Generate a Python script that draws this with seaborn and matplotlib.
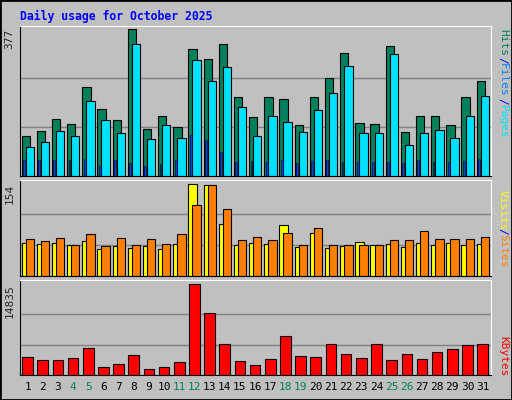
import matplotlib
matplotlib.use('Agg')
import matplotlib.pyplot as plt
import seaborn as sns
import numpy as np

days = list(range(1, 32))
weekend = [4, 5, 11, 12, 18, 19, 25, 26]

hits = [103, 115, 146, 133, 228, 172, 144, 377, 121, 154, 126, 326, 300, 339, 203, 151, 203, 197, 131, 203, 251, 315, 136, 133, 333, 113, 154, 154, 131, 203, 244]
files = [74, 87, 115, 103, 192, 144, 110, 339, 95, 131, 97, 297, 244, 280, 177, 103, 154, 138, 113, 169, 213, 282, 110, 110, 313, 79, 110, 118, 97, 154, 205]
pages = [41, 41, 41, 41, 44, 26, 41, 33, 26, 31, 41, 105, 92, 62, 36, 38, 36, 41, 33, 38, 41, 36, 36, 36, 36, 33, 41, 36, 36, 38, 44]
visits = [55, 54, 55, 52, 59, 45, 50, 47, 50, 45, 54, 154, 152, 87, 52, 55, 54, 85, 49, 72, 47, 50, 57, 52, 54, 49, 55, 52, 55, 52, 54]
sites = [62, 59, 64, 52, 70, 50, 64, 52, 62, 54, 70, 119, 152, 112, 60, 65, 60, 72, 52, 80, 52, 52, 52, 52, 60, 60, 75, 62, 62, 62, 65]
kbytes = [2934, 2445, 2445, 2771, 4401, 1304, 1793, 3260, 978, 1304, 2119, 14835, 10110, 5053, 2282, 1630, 2608, 6357, 3097, 2934, 5053, 3423, 2771, 5053, 2445, 3423, 2608, 3749, 4238, 4890, 5053]

sns.set_style('white')
plt.rcParams['font.family'] = ['DejaVu Sans Mono', 'DejaVu Sans']

W, H = 512, 400
fig = plt.figure(figsize=(W / 100, H / 100), dpi=100, facecolor='#c0c0c0')
fig.patches.append(plt.Rectangle((0, 0), 1, 1, transform=fig.transFigure,
                                 fill=False, edgecolor='black', lw=2))
fig.text(20 / W, 1 - 16 / H, 'Daily usage for October 2025', color='#0000ff',
         fontsize=8.3, fontweight='bold', va='center')


def panel(top, bottom):
    ax = fig.add_axes([20 / W, 1 - bottom / H, (491 - 20) / W, (bottom - top) / H])
    ax.set_facecolor('#c0c0c0')
    ax.set_xlim(0.3, 31.35)
    ax.set_xticks([])
    ax.set_yticks([])
    for s in ax.spines.values():
        s.set_color('black')
    ax.spines['top'].set_color('white')
    ax.spines['right'].set_color('white')
    return ax


def side_labels(ax, items):
    for t, c, yy in items:
        ax.text(1.025, yy, t, transform=ax.transAxes, rotation=270, color=c,
                fontsize=8, ha='center', va='center')


def max_label(ax, v):
    ax.text(-0.022, v, str(v), transform=ax.get_yaxis_transform(), rotation=90,
            ha='center', va='top', fontsize=8)


x = np.array(days, dtype=float)
kw = dict(edgecolor='black', linewidth=0.8, align='edge')

# top panel
ax1 = panel(26, 176)
mx = max(hits)
ax1.set_ylim(0, mx * 150 / 147)
for g in (mx / 3, mx * 2 / 3):
    ax1.axhline(g, color='#808080', lw=1, zorder=0)
ax1.bar(x - 0.6, hits, width=0.55, color='#00805c', **kw)
ax1.bar(x - 0.33, files, width=0.55, color='#00e0ff', **kw)
ax1.bar(x - 0.5, pages, width=0.12, color='#0040ff', edgecolor='black', linewidth=0.4, align='edge')
max_label(ax1, mx)
side_labels(ax1, [('Hits', '#00805c', 0.89), ('/', '#0000ff', 0.77), ('Files', '#0080ff', 0.64),
                  ('/', '#0000ff', 0.5), ('Pages', '#00e0ff', 0.36)])

# middle panel
ax2 = panel(180, 276)
mv = max(visits)
ax2.set_ylim(0, mv * 1.04)
for g in (mv / 3, mv * 2 / 3):
    ax2.axhline(g, color='#808080', lw=1, zorder=0)
ax2.bar(x - 0.6, visits, width=0.55, color='#ffff00', **kw)
ax2.bar(x - 0.33, sites, width=0.55, color='#ff8000', **kw)
max_label(ax2, mv)
side_labels(ax2, [('Visits', '#ffff00', 0.68), ('/', '#0000ff', 0.47), ('Sites', '#ff8000', 0.26)])

# bottom panel
ax3 = panel(280, 375)
mk = max(kbytes)
ax3.set_ylim(0, mk * 95 / 91)
for g in (mk / 3, mk * 2 / 3):
    ax3.axhline(g, color='#808080', lw=1, zorder=0)
ax3.bar(x - 0.55, kbytes, width=0.7, color='#ff0000', **kw)
max_label(ax3, mk)
side_labels(ax3, [('KBytes', '#ff0000', 0.2)])
for d in days:
    ax3.text(d - 0.2, -0.13, str(d), transform=ax3.get_xaxis_transform(), ha='center', va='center',
             fontsize=8, color='#00805c' if d in weekend else 'black')

fig.savefig('out.png', dpi=100, facecolor=fig.get_facecolor())
